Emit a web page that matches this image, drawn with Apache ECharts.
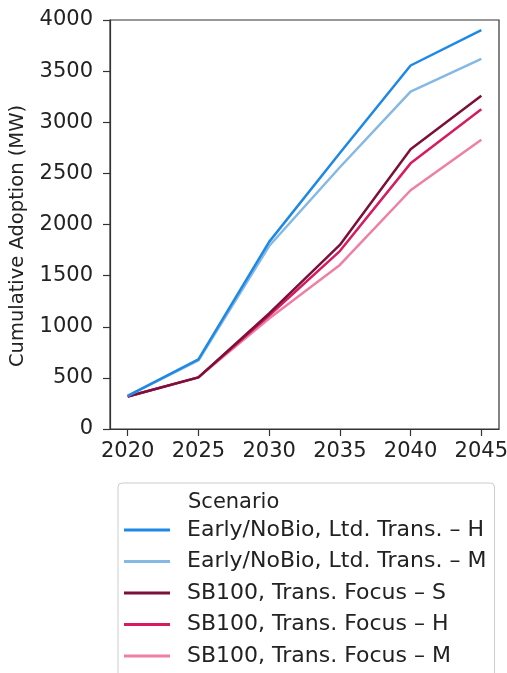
<!DOCTYPE html>
<html>
<head>
<meta charset="utf-8">
<title>Cumulative Adoption</title>
<script src="https://cdn.jsdelivr.net/npm/echarts@6/dist/echarts.min.js"></script>
<style>
  html, body { margin: 0; padding: 0; background: #fff; }
  #chart { width: 507px; height: 673px; }
</style>
</head>
<body>
<div id="chart"></div>
<script>
// years on the x axis
const years = [2020, 2025, 2030, 2035, 2040, 2045];
const yTicks = [0, 500, 1000, 1500, 2000, 2500, 3000, 3500, 4000];

// scenario names + values (MW)
const scenarioNames = [
  "Early/NoBio, Ltd. Trans. – H",
  "Early/NoBio, Ltd. Trans. – M",
  "SB100, Trans. Focus – S",
  "SB100, Trans. Focus – H",
  "SB100, Trans. Focus – M",
];
const earlyH = [325, 680, 1830, 2700, 3555, 3900];
const earlyM = [325, 670, 1790, 2560, 3300, 3620];
const sbS = [318, 505, 1130, 1800, 2735, 3258];
const sbH = [318, 505, 1110, 1740, 2598, 3128];
const sbM = [318, 505, 1080, 1605, 2335, 2828];
const colors = ["#1E88E5", "#86B8E6", "#7B1038", "#D81B60", "#EF7FA5"];

const allValues = [earlyH, earlyM, sbS, sbH, sbM];
const font = "DejaVu Sans";

const chart = echarts.init(document.getElementById("chart"));

const series = allValues.map((vals, i) => ({
  name: scenarioNames[i],
  type: "line",
  data: years.map((y, j) => [y, vals[j]]),
  showSymbol: false,
  symbol: "none",
  lineStyle: { color: colors[i], width: 2.5 },
  itemStyle: { color: colors[i] },
  z: 10 - i,
}));

chart.setOption({
  animation: false,
  backgroundColor: "#fff",
  title: {
    text: "Scenario",
    left: 183,
    top: 487,
    textStyle: { fontFamily: font, fontSize: 21, fontWeight: "normal", color: "#222" },
  },
  // y axis title, placed by hand to sit where the reference has it
  graphic: [{
    type: "text",
    x: 18,
    y: 236,
    rotation: Math.PI / 2,
    style: {
      text: "Cumulative Adoption (MW)",
      fontFamily: font,
      fontSize: 19.5,
      fill: "#222",
      align: "center",
      verticalAlign: "middle",
    },
  }],
  legend: {
    orient: "vertical",
    left: 118,
    top: 483,
    height: 200,
    icon: "rect",
    itemWidth: 46,
    itemHeight: 3,
    itemGap: 9.5,
    padding: [36, 8, 30, 6],
    borderColor: "#ccc",
    borderWidth: 1,
    borderRadius: 4,
    data: scenarioNames,
    textStyle: { fontFamily: font, fontSize: 22, color: "#222", padding: [0, 0, 0, 12] },
  },
  grid: {
    left: 110,
    right: 8,
    top: 20,
    bottom: 244,
    outerBoundsMode: "none",
    show: true,
    borderColor: "#333",
    borderWidth: 1.2,
  },
  xAxis: {
    type: "value",
    min: 2018.75,
    max: 2046.25,
    axisLine: { lineStyle: { color: "#333", width: 1.2 } },
    axisTick: { show: true, length: 7, customValues: years, lineStyle: { color: "#333", width: 1.2 } },
    axisLabel: {
      customValues: years,
      margin: 12,
      fontFamily: font,
      fontSize: 21,
      color: "#222",
      formatter: (v) => String(v),
    },
    splitLine: { show: false },
  },
  yAxis: {
    type: "value",
    min: 0,
    max: 4000,
    interval: 500,
    axisLine: { show: true, lineStyle: { color: "#333", width: 1.2 } },
    axisTick: { show: true, length: 7, lineStyle: { color: "#333", width: 1.2 } },
    axisLabel: {
      margin: 17,
      fontFamily: font,
      fontSize: 21,
      color: "#222",
      customValues: yTicks,
      formatter: (v) => String(v),
    },
    splitLine: { show: false },
  },
  series: series,
});
</script>
</body>
</html>
